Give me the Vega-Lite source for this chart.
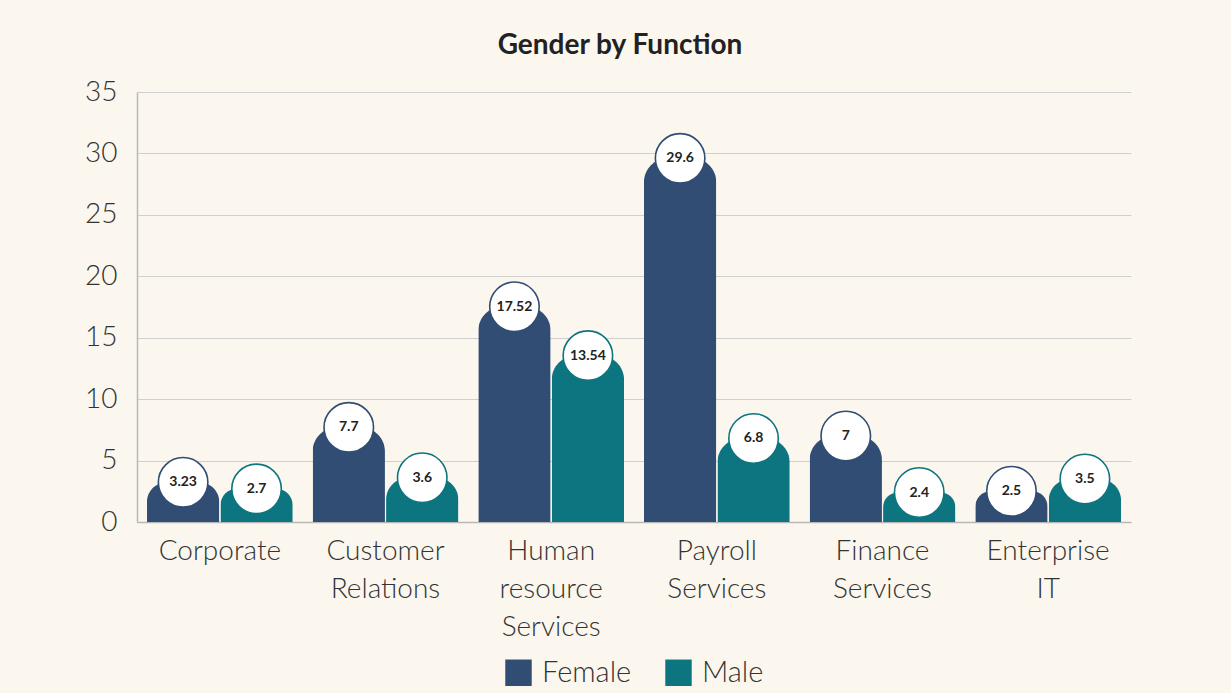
{
  "$schema": "https://vega.github.io/schema/vega-lite/v6.json",
  "autosize": "none",
  "width": 994,
  "height": 430,
  "padding": {"left": 137, "top": 92, "right": 100, "bottom": 171},
  "background": "#fbf7ee",
  "config": {
    "font": "Lato",
    "view": {"stroke": null},
    "axis": {"labelFont": "Lato", "labelFontWeight": 300, "labelColor": "#333333", "labelFontSize": 28, "ticks": false, "title": null, "domainColor": "#b8b8b8", "gridColor": "#cfcfcf", "domainWidth": 1.5, "gridWidth": 1.2}
  },
  "title": {"text": "Gender by Function", "font": "Lato", "fontSize": 28, "fontWeight": "bold", "color": "#222222", "anchor": "middle", "frame": "group", "dx": -14, "offset": 18},
  "data": {
    "values": [
      {"Function": "Corporate", "Gender": "Female", "Value": 3.23},
      {"Function": "Corporate", "Gender": "Male", "Value": 2.7},
      {"Function": "Customer Relations", "Gender": "Female", "Value": 7.7},
      {"Function": "Customer Relations", "Gender": "Male", "Value": 3.6},
      {"Function": "Human resource Services", "Gender": "Female", "Value": 17.52},
      {"Function": "Human resource Services", "Gender": "Male", "Value": 13.54},
      {"Function": "Payroll Services", "Gender": "Female", "Value": 29.6},
      {"Function": "Payroll Services", "Gender": "Male", "Value": 6.8},
      {"Function": "Finance Services", "Gender": "Female", "Value": 7},
      {"Function": "Finance Services", "Gender": "Male", "Value": 2.4},
      {"Function": "Enterprise IT", "Gender": "Female", "Value": 2.5},
      {"Function": "Enterprise IT", "Gender": "Male", "Value": 3.5}
    ]
  },
  "encoding": {
    "x": {"field": "Function", "type": "nominal", "sort": null,
      "scale": {"paddingInner": 0.12, "paddingOuter": 0.06},
      "axis": {"labelAngle": 0, "labelExpr": "split(datum.value, ' ')", "labelPadding": 15, "labelLineHeight": 38, "labelBaseline": "top", "domain": true, "grid": false}},
    "xOffset": {"field": "Gender", "type": "nominal", "scale": {"paddingInner": 0.015}},
    "y": {"field": "Value", "type": "quantitative", "scale": {"domain": [0, 35], "nice": false},
      "axis": {"values": [0, 5, 10, 15, 20, 25, 30, 35], "labelPadding": 20, "grid": true, "domain": true}}
  },
  "layer": [
    {
      "mark": {"type": "bar", "cornerRadiusTopLeft": 24, "cornerRadiusTopRight": 24},
      "encoding": {
        "color": {"field": "Gender", "type": "nominal",
          "scale": {"domain": ["Female", "Male"], "range": ["#314d74", "#0d7580"]},
          "legend": {"title": null, "orient": "none", "legendX": 367, "legendY": 566, "direction": "horizontal", "symbolType": "square", "symbolSize": 700, "symbolStrokeWidth": 0, "labelFontSize": 29, "labelFont": "Lato", "labelFontWeight": 300, "labelColor": "#333333", "columnPadding": 32, "labelOffset": 9}}
      }
    },
    {
      "mark": {"type": "point", "shape": "circle", "filled": false, "fill": "white", "fillOpacity": 1, "size": 2450, "strokeWidth": 1.6, "opacity": 1},
      "encoding": {
        "stroke": {"field": "Gender", "type": "nominal",
          "scale": {"domain": ["Female", "Male"], "range": ["#314d74", "#0d7580"]}, "legend": null}
      }
    },
    {
      "mark": {"type": "text", "font": "Lato", "fontSize": 14, "fontWeight": "bold", "color": "#222222", "baseline": "middle", "align": "center"},
      "encoding": {"text": {"field": "Value", "type": "quantitative"}}
    }
  ]
}
